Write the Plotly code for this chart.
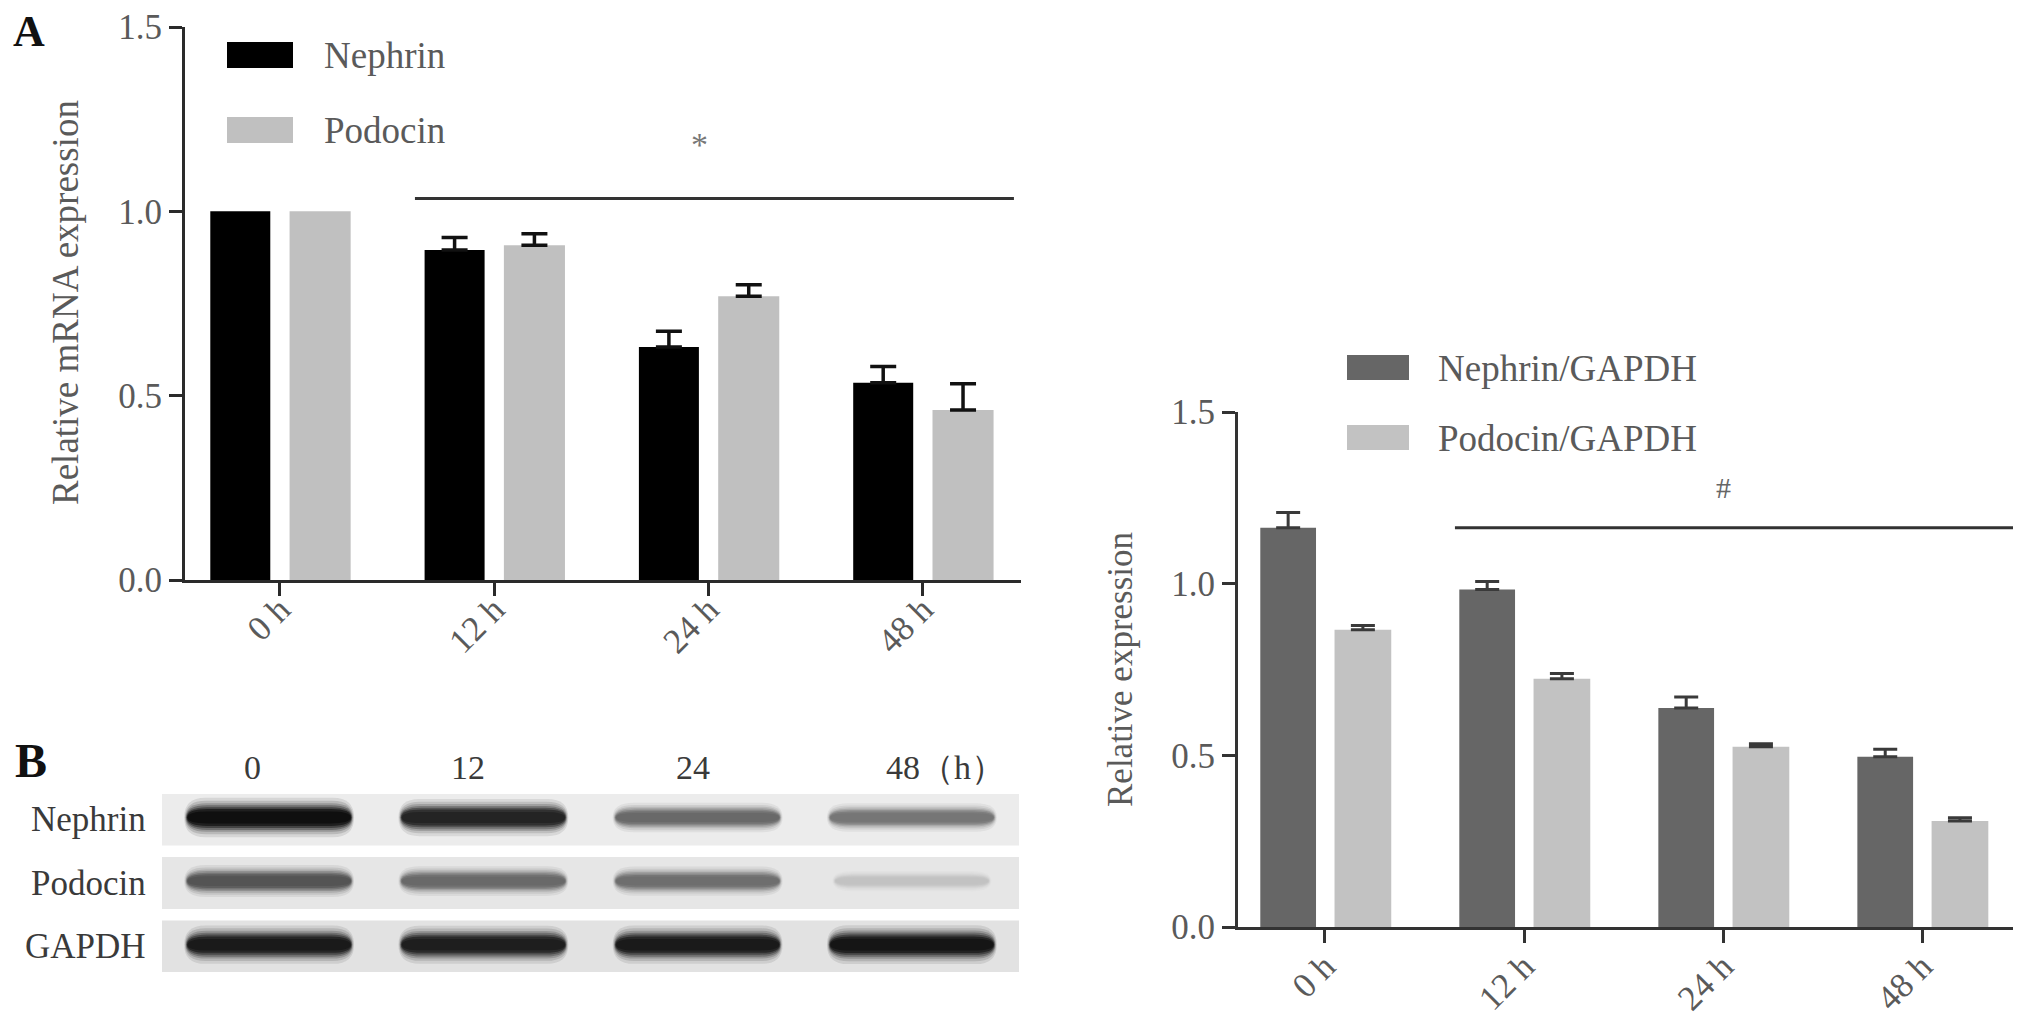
import numpy as np
import plotly.graph_objects as go

W, H = 2031, 1031
OFF = 8  # page body margin of the browser


def PX(x):
    return (x - OFF) / W


def PY(y):
    return 1 - (y - OFF) / H


# ---------------- data ----------------
time_labels = ["0 h", "12 h", "24 h", "48 h"]

mrna_nephrin = [1.0, 0.895, 0.632, 0.535]
mrna_nephrin_err = [None, 0.034, 0.043, 0.044]
mrna_podocin = [1.0, 0.908, 0.770, 0.461]
mrna_podocin_err = [None, 0.031, 0.031, 0.071]

prot_nephrin = [1.163, 0.983, 0.638, 0.496]
prot_nephrin_err = [0.044, 0.023, 0.032, 0.022]
prot_podocin = [0.866, 0.723, 0.525, 0.309]
prot_podocin_err = [0.012, 0.015, 0.009, 0.009]

y_ticks = [0.0, 0.5, 1.0, 1.5]

blot_lanes = ["0", "12", "24", "48（h）"]
blot_rows = ["Nephrin", "Podocin", "GAPDH"]
nephrin_band = [0.95, 0.85, 0.52, 0.46]
podocin_band = [0.62, 0.52, 0.50, 0.10]
gapdh_band = [0.90, 0.88, 0.90, 0.92]

# ---------------- style ----------------
FONT = "Liberation Serif, Times New Roman, serif"
TXT = "#5a5a5a"
AX = "#2a2a2a"


def up_err(arr, color, thick, w):
    a = np.array(arr, dtype=float)          # None -> NaN => no bar drawn
    minus = np.where(np.isnan(a), np.nan, 0.0)
    return dict(type="data", array=a, arrayminus=minus, symmetric=False,
                color=color, thickness=thick, width=w)


fig = go.Figure()

# Left panel A: mRNA
fig.add_trace(go.Bar(
    x=time_labels, y=mrna_nephrin, name="Nephrin", xaxis="x", yaxis="y",
    width=0.28, offset=-0.325, marker=dict(color="#000000", line_width=0),
    error_y=up_err(mrna_nephrin_err, "#111111", 3.5, 13), showlegend=False))
fig.add_trace(go.Bar(
    x=time_labels, y=mrna_podocin, name="Podocin", xaxis="x", yaxis="y",
    width=0.285, offset=0.045, marker=dict(color="#c0c0c0", line_width=0),
    error_y=up_err(mrna_podocin_err, "#111111", 3.5, 13), showlegend=False))

# Right panel: protein / GAPDH
fig.add_trace(go.Bar(
    x=time_labels, y=prot_nephrin, name="Nephrin/GAPDH", xaxis="x2", yaxis="y2",
    width=0.28, offset=-0.325, marker=dict(color="#666666", line_width=0),
    error_y=up_err(prot_nephrin_err, "#3a3a3a", 3, 12), showlegend=False))
fig.add_trace(go.Bar(
    x=time_labels, y=prot_podocin, name="Podocin/GAPDH", xaxis="x2", yaxis="y2",
    width=0.285, offset=0.048, marker=dict(color="#c2c2c2", line_width=0),
    error_y=up_err(prot_podocin_err, "#3a3a3a", 3, 12), showlegend=False))

axis_common = dict(showline=True, linewidth=3, ticks="outside", ticklen=13,
                   tickwidth=3, showgrid=False, zeroline=False, automargin=False,
                   tickfont=dict(family=FONT, size=35, color=TXT))

fig.update_layout(
    width=W, height=H, autosize=False,
    margin=dict(l=0, r=0, t=0, b=0, pad=0, autoexpand=False),
    paper_bgcolor="white", plot_bgcolor="white", barmode="overlay",
    showlegend=False,
    xaxis=dict(domain=[PX(185), PX(1021)], anchor="y", type="category",
               range=[-0.443, 3.458], tickangle=-45, linecolor=AX, tickcolor=AX,
               ticklabelstandoff=-21, **axis_common),
    yaxis=dict(domain=[PY(580), PY(27)], anchor="x", range=[0, 1.5],
               tickvals=y_ticks, tickformat=".1f", linecolor=AX, tickcolor=AX,
               **axis_common),
    xaxis2=dict(domain=[PX(1238), PX(2013)], anchor="y2", type="category",
                range=[-0.437, 3.457], tickangle=-45, linecolor="#333333",
                tickcolor="#333333", ticklabelstandoff=-11, **axis_common),
    yaxis2=dict(domain=[PY(927), PY(412)], anchor="x2", range=[0, 1.5],
                tickvals=y_ticks, tickformat=".1f", linecolor="#333333",
                tickcolor="#333333", **axis_common),
    xaxis3=dict(domain=[PX(162), PX(1019)], anchor="y3", range=[-0.5, 3.5],
                visible=False, fixedrange=True, automargin=False),
    yaxis3=dict(domain=[PY(972), PY(794)], anchor="x3", range=[2.4, -0.4],
                visible=False, fixedrange=True, automargin=False),
)

shapes = []
ann = []

# significance lines
shapes.append(dict(type="line", xref="x", yref="y", x0=0.63, x1=3.425,
                   y0=1.035, y1=1.035, line=dict(color="#333333", width=3)))
ann.append(dict(text="*", xref="x", yref="y", x=1.96, y=1.18, showarrow=False,
                font=dict(family=FONT, size=34, color="#777777")))
shapes.append(dict(type="line", xref="x2", yref="y2", x0=0.653, x1=3.48,
                   y0=1.163, y1=1.163, line=dict(color="#333333", width=3)))
ann.append(dict(text="#", xref="x2", yref="y2", x=2.0, y=1.28, showarrow=False,
                font=dict(family=FONT, size=30, color="#666666")))

# y-axis titles
ann.append(dict(text="Relative mRNA expression", xref="paper", yref="paper",
                x=PX(65), y=PY(303), textangle=-90, showarrow=False,
                xanchor="center", yanchor="middle",
                font=dict(family=FONT, size=37, color=TXT)))
ann.append(dict(text="Relative expression", xref="paper", yref="paper",
                x=PX(1120), y=PY(670), textangle=-90, showarrow=False,
                xanchor="center", yanchor="middle",
                font=dict(family=FONT, size=35, color=TXT)))


# custom legends (swatches + labels taken from the trace names)
def legend_item(x0, x1, y0, y1, color, label, tx):
    shapes.append(dict(type="rect", xref="paper", yref="paper",
                       x0=PX(x0), x1=PX(x1), y0=PY(y1), y1=PY(y0),
                       fillcolor=color, line=dict(width=0)))
    ann.append(dict(text=label, xref="paper", yref="paper", x=PX(tx),
                    y=PY((y0 + y1) / 2 + 1), xanchor="left", yanchor="middle",
                    showarrow=False, font=dict(family=FONT, size=37, color=TXT)))


legend_item(227, 293, 42, 68, "#000000", fig.data[0].name, 322)
legend_item(227, 293, 117, 143, "#c0c0c0", fig.data[1].name, 322)
legend_item(1347, 1409, 355, 380, "#666666", fig.data[2].name, 1436)
legend_item(1347, 1409, 425, 450, "#c2c2c2", fig.data[3].name, 1436)

# panel letters
ann.append(dict(text="<b>A</b>", xref="paper", yref="paper", x=PX(29), y=PY(32),
                showarrow=False, xanchor="center", yanchor="middle",
                font=dict(family=FONT, size=44, color="#111111")))
ann.append(dict(text="<b>B</b>", xref="paper", yref="paper", x=PX(31), y=PY(760),
                showarrow=False, xanchor="center", yanchor="middle",
                font=dict(family=FONT, size=48, color="#111111")))


# ---------------- western blot (panel B) ----------------
def band_path(cx, cy, hw, hh):
    r = hw * 0.25
    return (f"M {cx-hw+r},{cy-hh} L {cx+hw-r},{cy-hh} "
            f"Q {cx+hw},{cy-hh} {cx+hw},{cy} Q {cx+hw},{cy+hh} {cx+hw-r},{cy+hh} "
            f"L {cx-hw+r},{cy+hh} Q {cx-hw},{cy+hh} {cx-hw},{cy} "
            f"Q {cx-hw},{cy-hh} {cx-hw+r},{cy-hh} Z")


panel_bg = ["#ececec", "#e6e6e6", "#e2e2e2"]
band_sets = [nephrin_band, podocin_band, gapdh_band]
layers = [(2.0, 0.10), (1.7, 0.14), (1.45, 0.2), (1.25, 0.3), (1.05, 0.45),
          (0.85, 0.7), (0.6, 1.0)]
for r, (row_name, bands) in enumerate(zip(blot_rows, band_sets)):
    shapes.append(dict(type="rect", xref="x3", yref="y3", x0=-0.5, x1=3.5,
                       y0=r - 0.41, y1=r + 0.41, fillcolor=panel_bg[r],
                       line=dict(width=0), layer="below"))
    for lane, inten in enumerate(bands):
        g = int(215 - 210 * inten)
        col = f"rgb({g},{g},{g})"
        hh = 0.07 + 0.09 * inten
        hw = 0.385 if inten > 0.3 else 0.36
        cy = r - 0.03
        for scale, op in layers:
            shapes.append(dict(type="path", xref="x3", yref="y3",
                               path=band_path(lane, cy,
                                              hw * (0.97 + 0.03 * scale),
                                              hh * scale),
                               fillcolor=col, opacity=op, line=dict(width=0)))
    ann.append(dict(text=row_name, xref="x3", yref="y3", x=-0.5, y=r,
                    xshift=-14, xanchor="right", yanchor="middle", showarrow=False,
                    font=dict(family=FONT, size=35, color="#3a3a3a")))

lane_label_shift = [-17, -15, -5, -28]
for lane, lab in enumerate(blot_lanes):
    last = lane == len(blot_lanes) - 1
    ann.append(dict(text=lab, xref="x3", yref="paper", x=lane, y=PY(767),
                    xshift=lane_label_shift[lane],
                    xanchor="left" if last else "center", yanchor="middle",
                    showarrow=False,
                    font=dict(family=FONT, size=34, color="#3a3a3a")))

fig.update_layout(shapes=shapes, annotations=ann)

fig.write_html("out.html")
